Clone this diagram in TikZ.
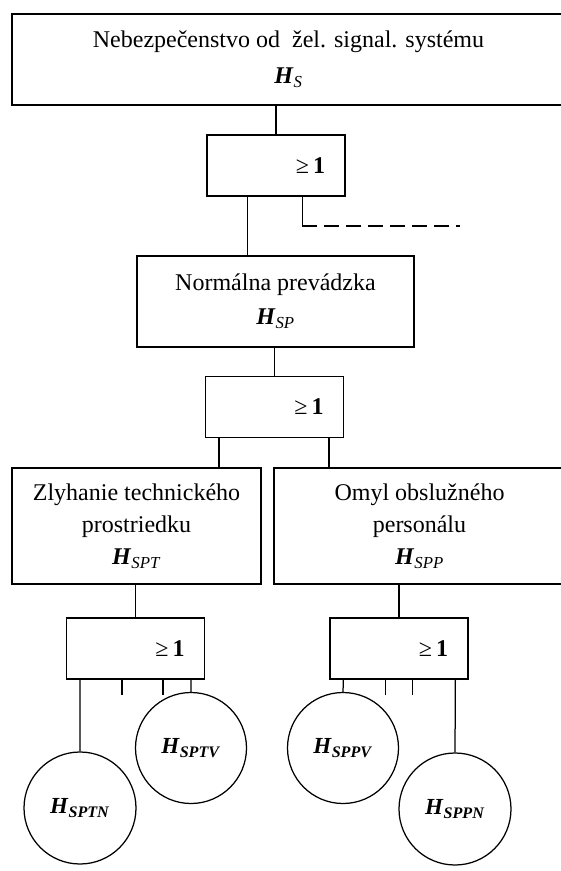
\documentclass[tikz,border=0pt]{standalone}
\usepackage{fontspec}
\setmainfont{Liberation Serif}
\newcommand{\hev}[1]{\textbf{\textit{H}}\textsubscript{\textit{#1}}}
\begin{document}
\begin{tikzpicture}[x=1pt,y=-1pt, line width=1.25pt,
    every node/.style={font=\fontsize{24}{32}\selectfont},
    evbox/.style={draw,rectangle,align=center,inner sep=0pt},
    orgate/.style={draw,rectangle,minimum height=61pt,text width=98pt,inner xsep=20pt,inner ysep=0pt,align=right},
    basic/.style={draw,circle,minimum size=111pt,inner sep=0pt,font=\fontsize{23}{31}\selectfont\bfseries}]
  \useasboundingbox (0,0) rectangle (561,871);
  \node[evbox,minimum width=553pt,minimum height=91pt] (hs) at (288.5,59.5)
    {Nebezpečenstvo od\ \ žel. signal. systému\\[4pt] \hev{S}};
  \node[orgate] (g1) at (276,165.5) {≥\,\textbf{1}};
  \node[evbox,minimum width=277pt,minimum height=91pt] (hsp) at (275.5,301.5)
    {Normálna prevádzka\\[2pt] \hev{SP}};
  \node[orgate] (g2) at (274.5,407) {≥\,\textbf{1}};
  \node[evbox,minimum width=249pt,minimum height=116pt] (hspt) at (136.5,526)
    {Zlyhanie technického\\ prostriedku\\ \hev{SPT}};
  \node[evbox,minimum width=291pt,minimum height=116pt] (hspp) at (419.5,526)
    {Omyl obslužného\\ personálu\\ \hev{SPP}};
  \node[orgate] (g3) at (135.5,648.5) {≥\,\textbf{1}};
  \node[orgate] (g4) at (399,648.5) {≥\,\textbf{1}};
  \node[basic,minimum size=112pt] (hsptn) at (80,808) {\hev{SPTN}};
  \node[basic] (hsptv) at (191,748) {\hev{SPTV}};
  \node[basic] (hsppv) at (343,748) {\hev{SPPV}};
  \node[basic,minimum size=112pt] (hsppn) at (455,809) {\hev{SPPN}};
  % spojenia
  \draw (g1.north) -- (g1.north |- hs.south);
  \draw ([xshift=41pt]g1.south west) -- ([xshift=41pt]g1.south west |- hsp.north);
  \coordinate (cont) at (460,226);
  \draw ([xshift=96pt]g1.south west) -- ([xshift=96pt]g1.south west |- cont);
  \draw[dash pattern=on 15pt off 7pt] ([xshift=96pt]g1.south west |- cont) -- (cont);
  \draw (g2.north) -- (g2.north |- hsp.south);
  \draw ([xshift=14pt]g2.south west) -- ([xshift=14pt]g2.south west |- hspt.north);
  \draw ([xshift=124pt]g2.south west) -- ([xshift=124pt]g2.south west |- hspp.north);
  \draw (g3.north) -- (g3.north |- hspt.south);
  \draw (g4.north) -- (g4.north |- hspp.south);
  \draw ([xshift=14pt]g3.south west) -- (hsptn.north);
  \draw ([xshift=125pt]g3.south west) -- (hsptv.north);
  \draw ([xshift=14pt]g4.south west) -- (hsppv.north);
  \draw ([xshift=126pt]g4.south west) -- (hsppn.north);
  \foreach \s in {56,97} \draw ([xshift=\s pt]g3.south west) -- ++(0,15);
  \foreach \s in {56,83} \draw ([xshift=\s pt]g4.south west) -- ++(0,15);
\end{tikzpicture}
\end{document}
